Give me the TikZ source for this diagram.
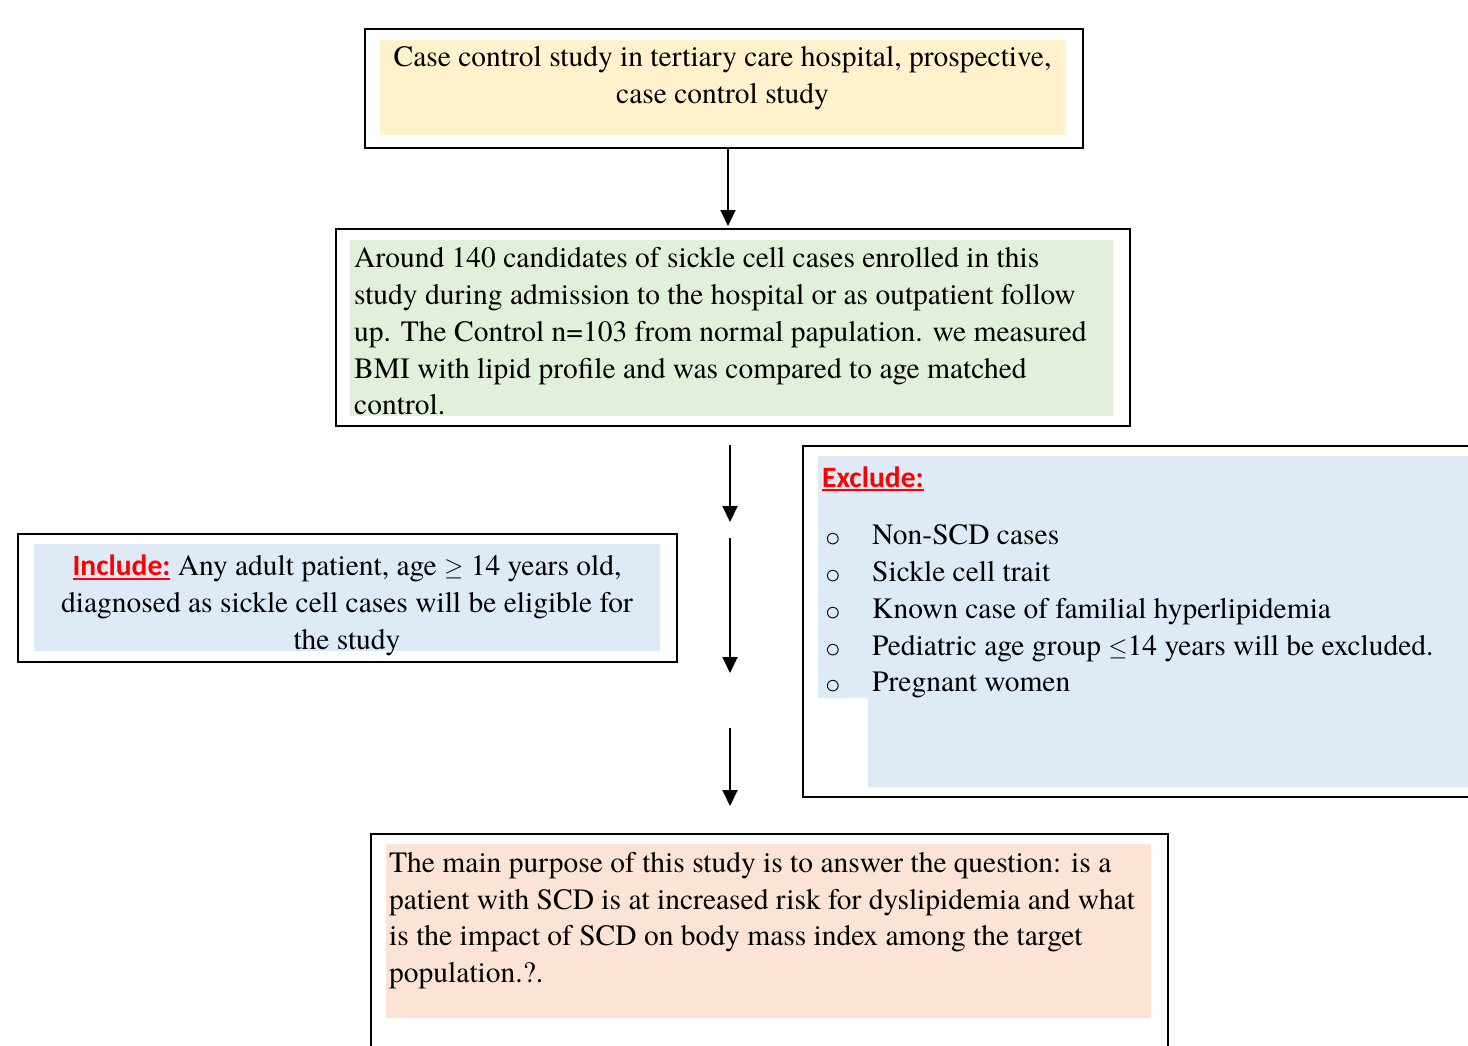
\documentclass[tikz,border=0pt]{standalone}
\usepackage{fontspec}
\setmainfont{texgyretermes}[Extension=.otf, UprightFont=*-regular, BoldFont=*-bold]
\newfontfamily\serifface{texgyretermes}[Extension=.otf, UprightFont=*-regular, BoldFont=*-bold]
\newfontfamily\carlito{Carlito}
\newfontfamily\bulletfont{texgyrecursor}[Extension=.otf, UprightFont=*-regular]
\usetikzlibrary{arrows.meta}

\definecolor{caseyellow}{HTML}{FFF2CC}
\definecolor{enrolgreen}{HTML}{E2EFDA}
\definecolor{critblue}{HTML}{DEEBF7}
\definecolor{aimpeach}{HTML}{FBE4D5}

% rows of text with the original's line pitch
\newcommand{\textrows}[2]{{\serifface\fontsize{29.5}{36.7}\selectfont\begin{tabular}{@{}#1@{}}#2\end{tabular}}}
\newcommand{\redlabel}[1]{{\carlito\bfseries\color{red}\setbox0\hbox{#1}\rlap{\rule[-4pt]{\wd0}{2pt}}\box0}}
\newcommand{\bul}{\makebox[47pt][l]{\bulletfont\fontsize{26}{26}\selectfont o}}

\begin{document}
\begin{tikzpicture}[x=1pt, y=-1pt,
    frame/.style={draw=black, line width=2pt},
    txt/.style={inner sep=0pt},
    arr/.style={-{Triangle[length=16pt,width=15pt]}, line width=2pt}]
    \useasboundingbox (0,0) rectangle (1468,1045);

    % coloured panels
    \fill[caseyellow] (380,40) rectangle (1066,135);
    \fill[enrolgreen] (350,240) rectangle (1113,416);
    \fill[critblue] (34,544) rectangle (660,651);
    \fill[critblue] (818,456) -- (1475,456) -- (1475,787) -- (868,787) -- (868,698) -- (818,698) -- cycle;
    \fill[aimpeach] (386,844) rectangle (1151,1018);

    % frames
    \node (case) [frame, minimum width=718, minimum height=119] at (724,88.5) {};
    \node (enrol) [frame, minimum width=794, minimum height=197] at (733,327.5) {};
    \node (incl) [frame, minimum width=659, minimum height=128] at (347.5,598) {};
    \node (excl) [frame, minimum width=672, minimum height=351] at (1139,621.5) {};
    \node (aim) [frame, minimum width=797, minimum height=218] at (769.5,943) {};

    % texts
    \node (casetxt) [txt] at (722.5,78) {\textrows{c}{Case control study in tertiary care hospital, prospective,\\ case control study}};
    \node (enroltxt) [txt, anchor=west] at (354,334) {\textrows{l}{Around 140 candidates of sickle cell cases enrolled in this\\
        study during admission to the hospital or as outpatient follow\\
        up. The Control n=103 from normal papulation. we measured\\
        BMI with lipid profile and was compared to age matched\\
        control.}};
    \node (incltxt) [txt] at (347,605) {\textrows{c}{\redlabel{Include:} Any adult patient, age $\geq$ 14 years old,\\
        diagnosed as sickle cell cases will be eligible for\\
        the study}};
    \node (excltitle) [txt, anchor=west] at (822,480) {\textrows{l}{\redlabel{Exclude:}}};
    \node (excllist) [txt, anchor=west] at (825,611) {\textrows{l}{\bul Non-SCD cases\\
        \bul Sickle cell trait\\
        \bul Known case of familial hyperlipidemia\\
        \bul Pediatric age group $\leq$14 years will be excluded.\\
        \bul Pregnant women}};
    \node (aimtxt) [txt, anchor=west] at (389,920) {\textrows{l}{The main purpose of this study is to answer the question: is a\\
        patient with SCD is at increased risk for dyslipidemia and what\\
        is the impact of SCD on body mass index among the target\\
        population.?.}};

    % arrows
    \draw[arr, shorten >=2pt] ([xshift=4]case.south) -- ([xshift=-5]enrol.north);
    \coordinate (down1a) at (730,445);
    \coordinate (down1b) at (730,522);
    \coordinate (down2a) at (730,538);
    \coordinate (down2b) at (730,673);
    \coordinate (down3a) at (730,728);
    \coordinate (down3b) at (730,806);
    \draw[arr] (down1a) -- (down1b);
    \draw[arr] (down2a) -- (down2b);
    \draw[arr] (down3a) -- (down3b);
\end{tikzpicture}
\end{document}
